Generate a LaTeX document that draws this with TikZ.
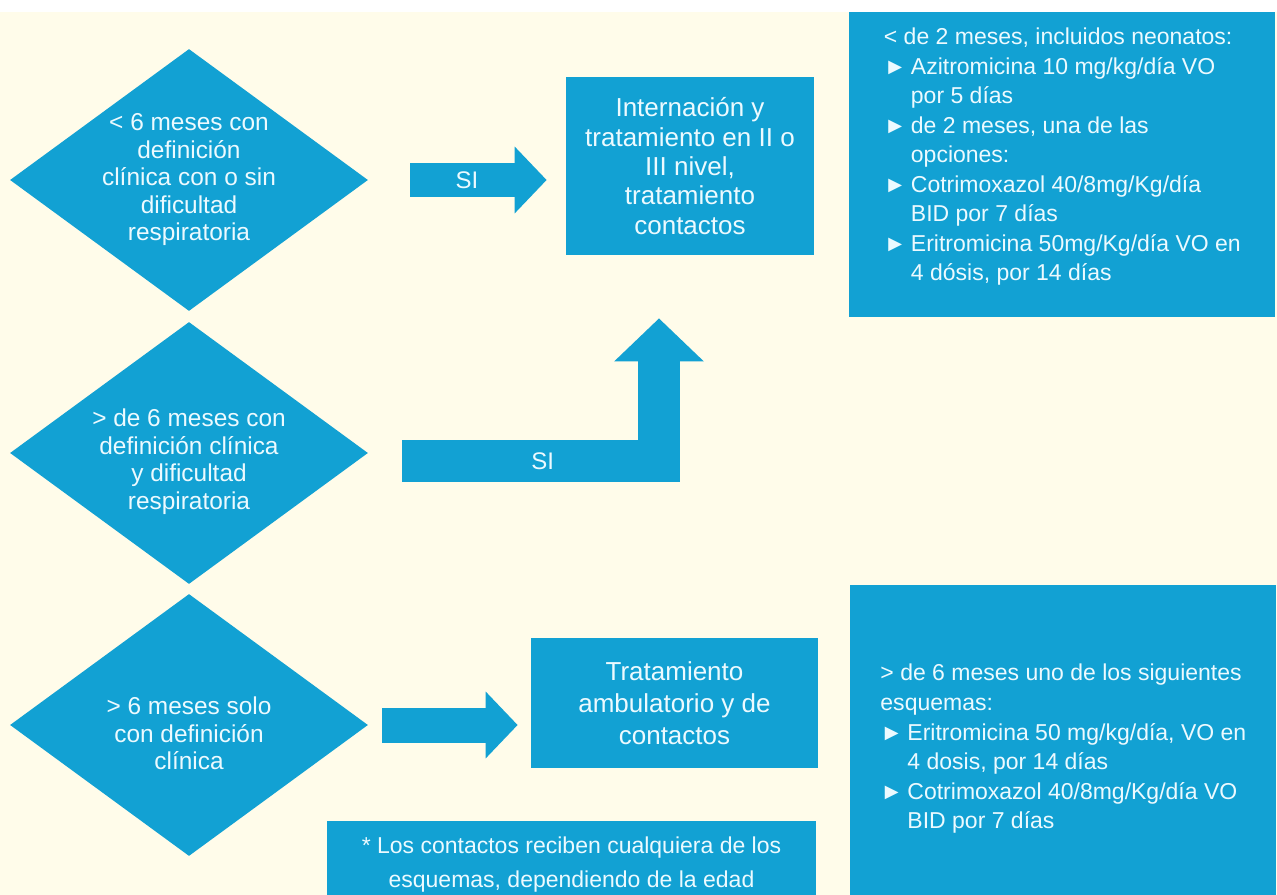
\documentclass[tikz,border=0pt]{standalone}
\usepackage{fontspec}
\setmainfont{Liberation Sans}
\usetikzlibrary{shapes.geometric,arrows.meta,positioning}

\definecolor{fondo}{RGB}{255,252,234}
\definecolor{azul}{RGB}{18,161,211}
\definecolor{letra}{RGB}{236,250,255}

\newdimen\px \px=0.2mm
\newcommand{\vi}{\makebox[27\px][l]{►}}
\newcommand{\sg}{\hspace*{27\px}}
\newcommand{\bajar}{\rule{0pt}{20pt}}
\newcommand{\fdiam}{\fontsize{13.9pt}{15.65pt}\selectfont}
\newcommand{\fcaja}{\fontsize{14.8pt}{16.7pt}\selectfont}
\newcommand{\fcajab}{\fontsize{14.8pt}{18.2pt}\selectfont}
\newcommand{\flista}{\fontsize{13.09pt}{16.8pt}\selectfont}
\newcommand{\fnota}{\fontsize{13.09pt}{19.1pt}\selectfont}
\newcommand{\fsi}{\fontsize{13.66pt}{16pt}\selectfont}

\begin{document}
\begin{tikzpicture}[x=0.2mm, y=-0.2mm]
    \tikzset{decision/.style = {diamond, shape aspect=1.37, fill=azul, text=letra, inner sep=-2mm,
                                minimum width=71.6mm, minimum height=52.4mm,
                                align=center, font=\fdiam},
             caja/.style = {rectangle, fill=azul, text=letra, inner sep=0pt, align=center},
             flecha/.style = {draw=azul, line width=7mm, -{Triangle[length=6.4mm, width=13mm]}},
             si/.style = {text=letra, font=\fsi}}
    \useasboundingbox (0,0) rectangle (1277,895);
    \clip (0,0) rectangle (1277,895);
    \fill[fondo] (0,0) rectangle (1277,895);
    \fill[white] (0,0) rectangle (1277,12);
    %% decisions
    \node[decision] (d1) at (189,180) {< 6 meses con\\definición\\clínica con o sin\\dificultad\\respiratoria};
    \node[decision] (d2) at (189,453) {\bajar> de 6 meses con\\definición clínica\\y dificultad\\respiratoria};
    \node[decision] (d3) at (189,725) {\bajar> 6 meses solo\\con definición\\clínica};
    %% results
    \node[caja, minimum width=49.6mm, minimum height=35.6mm, font=\fcaja] (b1) at (690,166)
        {Internación y\\tratamiento en II o\\III nivel,\\tratamiento\\contactos};
    \node[caja, minimum width=57.4mm, minimum height=26mm, font=\fcajab] (b2) at (674.5,703)
        {Tratamiento\\ambulatorio y de\\contactos};
    \node[caja, minimum width=97.8mm, minimum height=17.6mm, font=\fnota] (nota)
        [below left = 10.4mm and 0.4mm of b2.south east]
        {* Los contactos reciben cualquiera de los\\esquemas, dependiendo de la edad};
    %% schemes
    \node[caja, anchor=north west, align=left, minimum width=85.2mm, minimum height=61mm,
          text depth=4.2mm, font=\flista] (e1) at (849,12)
        {< de 2 meses, incluidos neonatos:\\
         \vi Azitromicina 10 mg/kg/día VO\\
         \sg por 5 días\\
         \vi de 2 meses, una de las\\
         \sg opciones:\\
         \vi Cotrimoxazol 40/8mg/Kg/día\\
         \sg BID por 7 días\\
         \vi Eritromicina 50mg/Kg/día VO en\\
         \sg 4 dósis, por 14 días};
    \node[caja, anchor=north west, align=left, minimum width=85.2mm, minimum height=65.4mm,
          font=\flista] (e2) at (850,585)
        {> de 6 meses uno de los siguientes\\
         esquemas:\\
         \vi Eritromicina 50 mg/kg/día, VO en\\
         \sg 4 dosis, por 14 días\\
         \vi Cotrimoxazol 40/8mg/Kg/día VO\\
         \sg BID por 7 días};
    %% block arrows
    \draw[flecha, line width=6.8mm, shorten <=8.4mm, shorten >=3.8mm]
        (d1.east) -- (d1.east -| b1.west) node[midway, si] {SI};
    \draw[flecha, line width=8.4mm, -{Triangle[length=8.6mm, width=17.4mm]},
          shorten <=6.8mm, shorten >=12.6mm]
        ([yshift=-1.6mm]d2.east) -| ([xshift=-6.2mm]b1.south) node[pos=0.3, si] {SI};
    \draw[flecha, shorten <=2.8mm, shorten >=2.6mm]
        (d3.east) -- (d3.east -| b2.west);
\end{tikzpicture}
\end{document}
